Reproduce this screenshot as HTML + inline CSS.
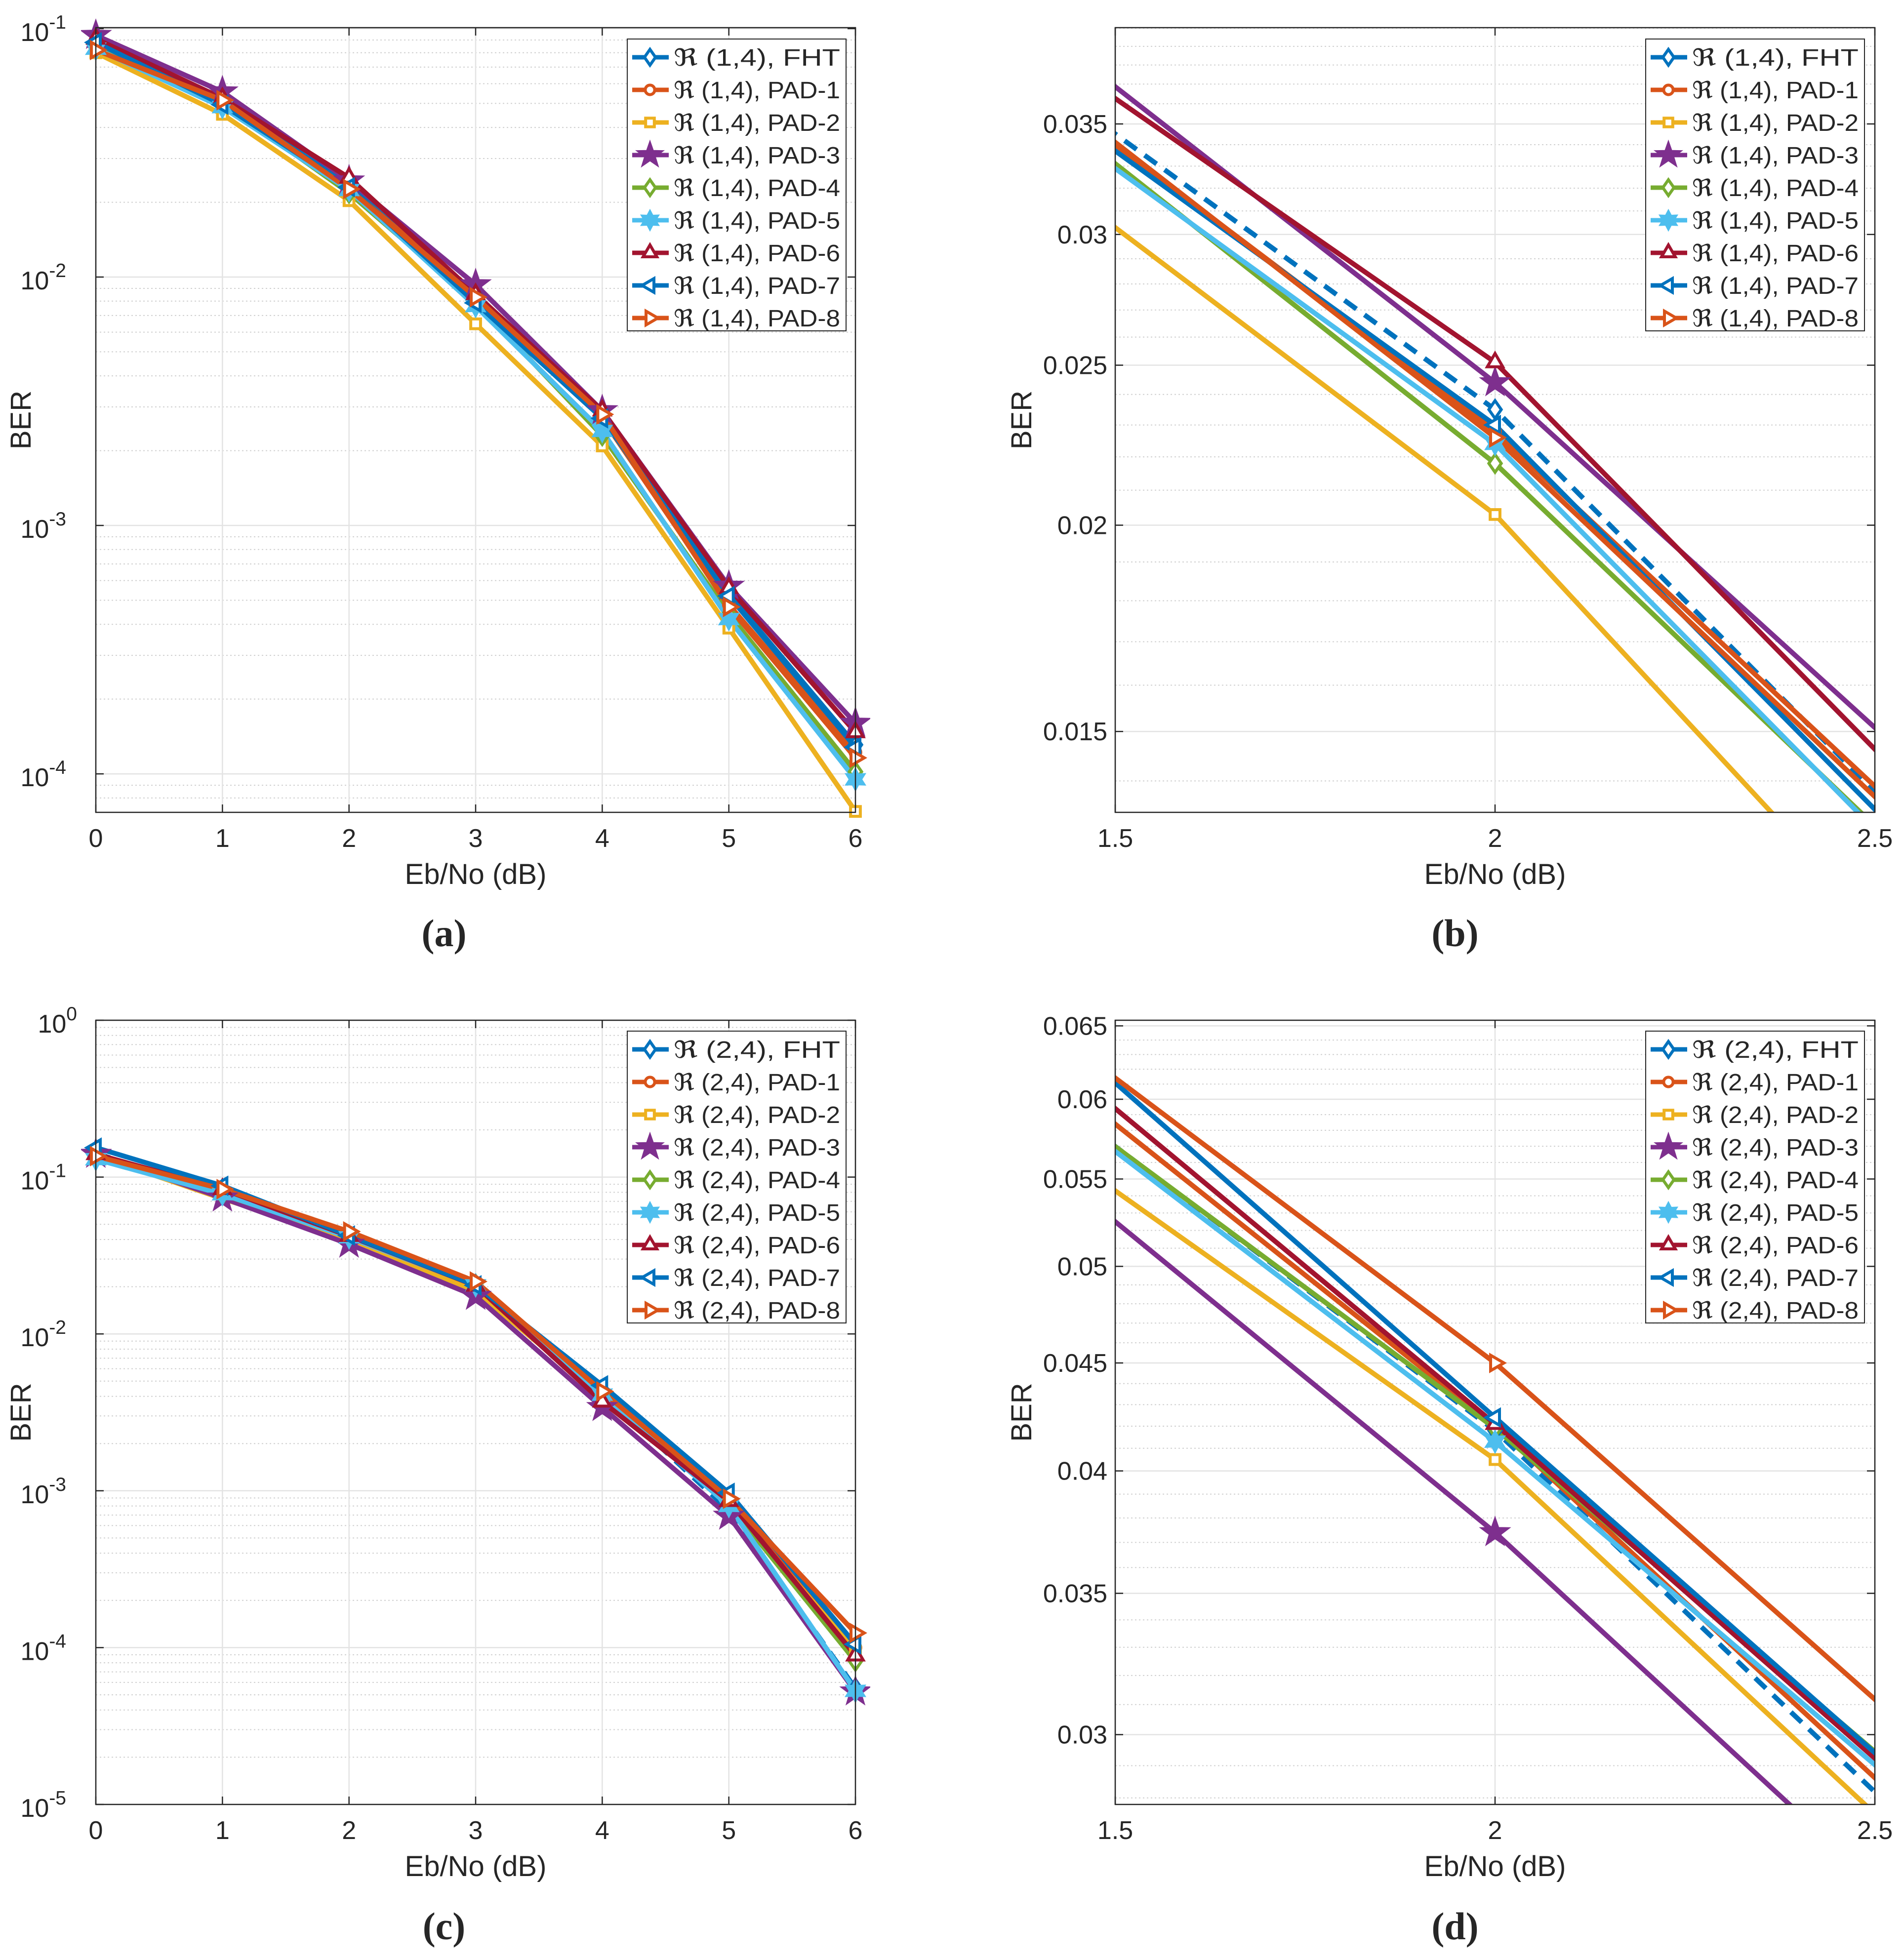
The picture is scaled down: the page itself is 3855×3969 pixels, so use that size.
<!DOCTYPE html>
<html><head><meta charset="utf-8"><style>
html,body{margin:0;padding:0;background:#fff;width:3855px;height:3969px;overflow:hidden;position:relative}
svg{display:block;position:absolute;left:0;top:0}
text{font-family:"Liberation Sans","DejaVu Sans",sans-serif;fill:#262626}
</style></head><body>
<svg id="fig" width="3855" height="3969" viewBox="0 0 3855 3969" xmlns="http://www.w3.org/2000/svg"></svg>
<script>
// ---- data ----
const ebnoFull = [0,1,2,3,4,5,6];
const seriesNames = ["FHT","PAD-1","PAD-2","PAD-3","PAD-4","PAD-5","PAD-6","PAD-7","PAD-8"];
// (1,4) code
const ber14_FHT  = [0.087,0.0507,0.0235,0.0081,0.0028,0.00053,0.000131];
const ber14_PAD1 = [0.085,0.0507,0.0228,0.00847,0.0027,0.00048,0.000122];
const ber14_PAD2 = [0.080,0.0452,0.0203,0.00648,0.00209,0.000386,0.0000706];
const ber14_PAD3 = [0.094,0.0557,0.0244,0.00932,0.0029,0.00057,0.00016];
const ber14_PAD4 = [0.084,0.0503,0.0218,0.00793,0.0023,0.00044,0.000102];
const ber14_PAD5 = [0.083,0.0483,0.0224,0.00764,0.0024,0.00042,0.000095];
const ber14_PAD6 = [0.091,0.0524,0.0251,0.00853,0.0029,0.00056,0.000147];
const ber14_PAD7 = [0.088,0.0494,0.0230,0.00787,0.0027,0.00052,0.000128];
const ber14_PAD8 = [0.082,0.0515,0.0226,0.0083,0.0028,0.00047,0.000116];
// (2,4) code
const ber24_FHT  = [0.142,0.0777,0.0418,0.0190,0.0042,0.00075,0.000055];
const ber24_PAD1 = [0.140,0.0812,0.0420,0.0195,0.0042,0.00085,0.000100];
const ber24_PAD2 = [0.138,0.0728,0.0405,0.0187,0.0040,0.00082,0.000095];
const ber24_PAD3 = [0.140,0.0737,0.0374,0.0174,0.0034,0.00069,0.0000523];
const ber24_PAD4 = [0.138,0.0775,0.0419,0.0207,0.0041,0.00082,0.000082];
const ber24_PAD5 = [0.130,0.0778,0.0413,0.0204,0.0041,0.00080,0.000053];
const ber24_PAD6 = [0.140,0.0838,0.0421,0.0203,0.0037,0.00086,0.000089];
const ber24_PAD7 = [0.154,0.0880,0.0424,0.0204,0.0047,0.00097,0.000105];
const ber24_PAD8 = [0.136,0.0838,0.0450,0.0216,0.0043,0.00089,0.000124];
const xTicksFull = [0,1,2,3,4,5,6];
const xTicksZoom = [1.5,2,2.5];
const yTicksA = [-4,-3,-2,-1];
const yTicksC = [-5,-4,-3,-2,-1,0];
const yTicksB = [0.015,0.02,0.025,0.03,0.035];
const yTicksD = [0.03,0.035,0.04,0.045,0.05,0.055,0.06,0.065];

const colors = ["#0072BD","#D95319","#EDB120","#7E2F8E","#77AC30","#4DBEEE","#A2142F","#0072BD","#D95319"];
const markers = ["diamond","circle","square","pentagram","diamond","hexagram","tri-up","tri-left","tri-right"];
const data14 = [ber14_FHT,ber14_PAD1,ber14_PAD2,ber14_PAD3,ber14_PAD4,ber14_PAD5,ber14_PAD6,ber14_PAD7,ber14_PAD8];
const data24 = [ber24_FHT,ber24_PAD1,ber24_PAD2,ber24_PAD3,ber24_PAD4,ber24_PAD5,ber24_PAD6,ber24_PAD7,ber24_PAD8];

const NS = "http://www.w3.org/2000/svg";
const svg = document.getElementById("fig");
function mk(tag, attrs, parent){
  const e = document.createElementNS(NS, tag);
  for (const k in attrs) e.setAttribute(k, attrs[k]);
  (parent||svg).appendChild(e);
  return e;
}
function markerPath(type, cx, cy, r){
  if (type==="diamond") return `M${cx},${cy-r}L${cx+r*0.7},${cy}L${cx},${cy+r}L${cx-r*0.7},${cy}Z`;
  if (type==="square") { const s=r*0.55; return `M${cx-s},${cy-s}H${cx+s}V${cy+s}H${cx-s}Z`; }
  if (type==="tri-up") return `M${cx},${cy-r}L${cx+r*0.87},${cy+r*0.5}L${cx-r*0.87},${cy+r*0.5}Z`;
  if (type==="tri-left") return `M${cx-r},${cy}L${cx+r*0.5},${cy-r*0.87}L${cx+r*0.5},${cy+r*0.87}Z`;
  if (type==="tri-right") return `M${cx+r},${cy}L${cx-r*0.5},${cy-r*0.87}L${cx-r*0.5},${cy+r*0.87}Z`;
  if (type==="pentagram" || type==="hexagram"){
    const n = type==="pentagram"?5:6;
    const R = type==="pentagram"?r*1.4:r*1.05;
    const ri = type==="pentagram"?R*0.4:R*0.55;
    let d="";
    for(let i=0;i<2*n;i++){const a=-Math.PI/2+i*Math.PI/n; const rr=i%2?ri:R; d+=(i?"L":"M")+(cx+rr*Math.cos(a)).toFixed(1)+","+(cy+rr*Math.sin(a)).toFixed(1);}
    return d+"Z";
  }
  return null;
}
function drawMarker(g, type, cx, cy, r, color){
  if (type==="circle") return mk("circle",{cx,cy,r:r*0.6,fill:"#fff",stroke:color,"stroke-width":6},g);
  const filled = (type==="pentagram"||type==="hexagram");
  return mk("path",{d:markerPath(type,cx,cy,r),fill:filled?color:"#fff",stroke:color,"stroke-width":6,"stroke-linejoin":"miter"},g);
}

function panel(cfg){
  const {id,x0,x1,y0,y1,xmin,xmax,ymin,ymax,data,code,dashFHT} = cfg;
  const g = mk("g",{});
  
  
  const X = v => x0 + (v-xmin)/(xmax-xmin)*(x1-x0);
  const Y = v => y1 - (Math.log10(v)-Math.log10(ymin))/(Math.log10(ymax)-Math.log10(ymin))*(y1-y0);
  mk("rect",{x:x0,y:y0,width:x1-x0,height:y1-y0,fill:"#fff"},g);
  const gridG = mk("g",{},g);
  
  
  if (cfg.decades){
    for (let e=Math.floor(Math.log10(ymin)); e<=Math.ceil(Math.log10(ymax)); e++){
      for (let m=2;m<=9;m++){ const v=m*Math.pow(10,e); if(v>ymin&&v<ymax){const y=Y(v); mk("line",{x1:x0,x2:x1,y1:y,y2:y,stroke:"#d0d0d0","stroke-width":2,"stroke-dasharray":"3,5"},gridG);} }
    }
  } else {
    for (let v=Math.ceil(ymin*1000)/1000; v<ymax; v+=0.001){ const y=Y(v); mk("line",{x1:x0,x2:x1,y1:y,y2:y,stroke:"#d0d0d0","stroke-width":2,"stroke-dasharray":"3,5"},gridG); }
  }
  cfg.xticks.forEach(t=>{
    const x=X(t);
    mk("line",{x1:x,x2:x,y1:y0,y2:y1,stroke:"#e3e3e3","stroke-width":2.5},gridG);
    mk("line",{x1:x,x2:x,y1:y1,y2:y1-16,stroke:"#262626","stroke-width":2.5},g);
    mk("line",{x1:x,x2:x,y1:y0,y2:y0+16,stroke:"#262626","stroke-width":2.5},g);
    const tx=mk("text",{x:x,y:y1+70,"font-size":52,"text-anchor":"middle"},g);
    
    
    tx.textContent=String(t);
  });
  cfg.yticks.forEach(t=>{
    const v = cfg.decades?Math.pow(10,t):t;
    const y=Y(v);
    mk("line",{x1:x0,x2:x1,y1:y,y2:y,stroke:"#e3e3e3","stroke-width":2.5},gridG);
    mk("line",{x1:x0,x2:x0+16,y1:y,y2:y,stroke:"#262626","stroke-width":2.5},g);
    mk("line",{x1:x1,x2:x1-16,y1:y,y2:y,stroke:"#262626","stroke-width":2.5},g);
    const tx=mk("text",{x:x0-16,y:y+18,"font-size":52,"text-anchor":"end"},g);
    
    
    if (cfg.decades){
      tx.setAttribute("x", x0-60);
      tx.setAttribute("y", y+25);
      tx.textContent="10";
      const sup=mk("tspan",{"font-size":39,dy:-25},tx); sup.textContent=String(t);
      if(t===0) tx.setAttribute("x", x0-38);
    } else tx.textContent=String(t);
  });
  const cp = mk("clipPath",{id:id+"-clip"},g);
  mk("rect",{x:x0-30,y:y0-30,width:x1-x0+60,height:y1-y0+60},cp);
  const cpl = mk("clipPath",{id:id+"-clipl"},g);
  mk("rect",{x:x0,y:y0,width:x1-x0,height:y1-y0},cpl);
  const lines = mk("g",{"clip-path":`url(#${id}-clipl)`},g);
  const marks = mk("g",{"clip-path":`url(#${id}-clip)`},g);
  data.forEach((s,i)=>{
    const pts = ebnoFull.map((x,j)=>X(x).toFixed(1)+","+Y(s[j]).toFixed(1)).join(" ");
    const pl = mk("polyline",{points:pts,fill:"none",stroke:colors[i],"stroke-width":10,"stroke-linejoin":"round"},lines);
    if (i===0 && dashFHT) pl.setAttribute("stroke-dasharray","30,20");
    
    
  });
  data.forEach((s,i)=>{
    ebnoFull.forEach((x,j)=>{
      if (x<xmin-1e-9||x>xmax+1e-9) return;
      const m = drawMarker(marks, markers[i], X(x), Y(s[j]), 18, colors[i]);
      
      
    });
  });
  mk("rect",{x:x0,y:y0,width:x1-x0,height:y1-y0,fill:"none",stroke:"#262626","stroke-width":2.5},g);
  const xl=mk("text",{x:(x0+x1)/2,y:cfg.xtY,"font-size":58,"text-anchor":"middle"},g);
  
  
  xl.textContent="Eb/No (dB)";
  const ylx = cfg.ylabX, yly=(y0+y1)/2;
  const yl=mk("text",{x:ylx,y:yly,"font-size":58,"text-anchor":"middle",transform:`rotate(-90 ${ylx} ${yly})`},g);
  
  
  yl.textContent="BER";
  const lg = mk("g",{},g);
  
  
  const lx0=x1-cfg.legRight-443, ly0=y0+cfg.legTop;
  mk("rect",{x:lx0,y:ly0,width:443,height:591,fill:"#fff",stroke:"#262626","stroke-width":2},lg);
  seriesNames.forEach((n,i)=>{
    const cy=ly0+37+66*i;
    const e=mk("g",{},lg);
    
    
    mk("line",{x1:lx0+10,x2:lx0+84,y1:cy,y2:cy,stroke:colors[i],"stroke-width":9},e);
    drawMarker(e, markers[i], lx0+46, cy, 16, colors[i]);
    const t=mk("text",{x:lx0+94,y:cy+17,"font-size":48,textLength:337,lengthAdjust:"spacingAndGlyphs"},e);
    t.textContent="ℜ ("+code+"), "+n;
  });
  const cap=mk("text",{x:cfg.capX,y:cfg.capY,"font-size":78,"text-anchor":"middle","font-weight":"bold",style:"font-family:'Liberation Serif',serif"},g);
  
  
  cap.textContent="("+cfg.cap+")";
}

panel({id:"panel-a",x0:194,x1:1732,y0:56,y1:1645,xmin:0,xmax:6,ymin:7.0e-5,ymax:0.1009,data:data14,code:"1,4",dashFHT:false,decades:true,xticks:xTicksFull,yticks:yTicksA,ylabX:62,legTop:23,legRight:19,capX:899,capY:1916,xtY:1790,cap:"a"});
panel({id:"panel-b",x0:2258,x1:3796,y0:56,y1:1645,xmin:1.5,xmax:2.5,ymin:0.01340,ymax:0.04003,data:data14,code:"1,4",dashFHT:true,decades:false,xticks:xTicksZoom,yticks:yTicksB,ylabX:2088,legTop:23,legRight:21,capX:2946,capY:1916,xtY:1790,cap:"b"});
panel({id:"panel-c",x0:194,x1:1732,y0:2066,y1:3654,xmin:0,xmax:6,ymin:1e-5,ymax:1,data:data24,code:"2,4",dashFHT:true,decades:true,xticks:xTicksFull,yticks:yTicksC,ylabX:62,legTop:22,legRight:19,capX:899,capY:3927,xtY:3799,cap:"c"});
panel({id:"panel-d",x0:2258,x1:3796,y0:2066,y1:3654,xmin:1.5,xmax:2.5,ymin:0.0278,ymax:0.0654,data:data24,code:"2,4",dashFHT:true,decades:false,xticks:xTicksZoom,yticks:yTicksD,ylabX:2088,legTop:22,legRight:21,capX:2946,capY:3927,xtY:3799,cap:"d"});
</script>
</body></html>
